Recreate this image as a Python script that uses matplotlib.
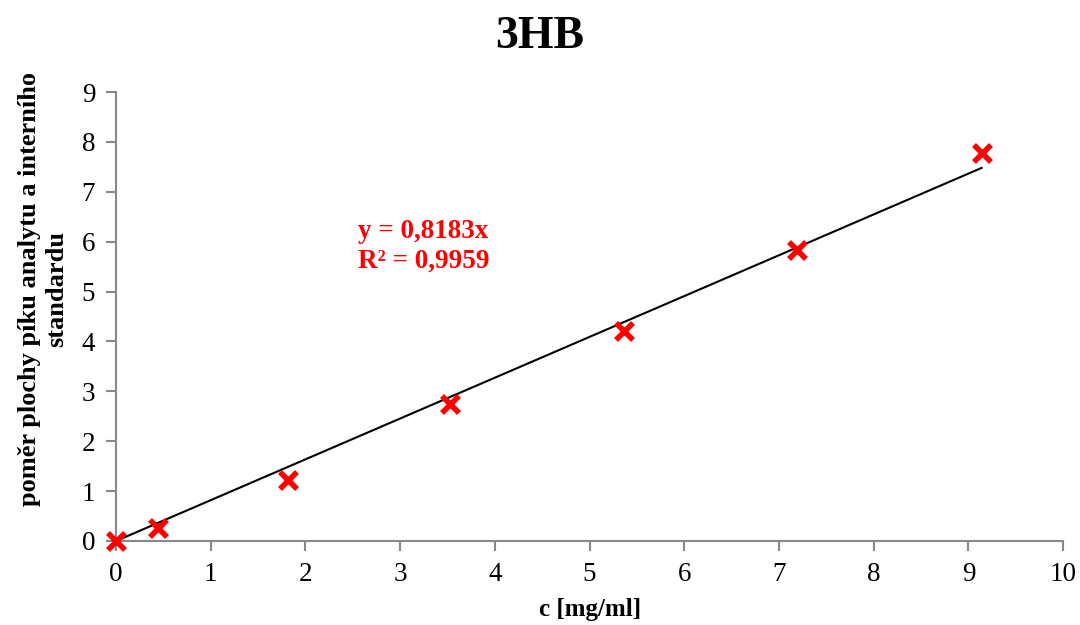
import numpy as np
import matplotlib.pyplot as plt

# calibration data for 3HB
conc = [0.0, 0.44, 1.82, 3.53, 5.36, 7.19, 9.14]
ratio = [0.0, 0.26, 1.22, 2.74, 4.21, 5.84, 7.77]
slope = 0.8183
r2 = 0.9959

plt.rcParams['font.family'] = ['Liberation Serif', 'DejaVu Serif']

fig = plt.figure(figsize=(10.8, 6.25), dpi=100)
ax = fig.add_axes([0.1074, 0.1344, 0.877, 0.7184])

# trendline through the origin
xl = np.array([0.0, max(conc)])
ax.plot(xl, slope * xl, color='black', lw=1.5, zorder=2)
ax.scatter(conc, ratio, marker='x', s=150, color='#ff0000', linewidths=4, zorder=3, clip_on=False)

ax.text(2.55, 6.2, f'y = {slope:.4f}x'.replace('.', ','), color='#ff0000',
        fontsize=19.5, fontweight='bold', va='center')
ax.text(2.55, 5.6, f'R² = {r2:.4f}'.replace('.', ','), color='#ff0000',
        fontsize=19.5, fontweight='bold', va='center')

ax.set_xlim(0, 10)
ax.set_ylim(0, 9)
ax.set_xticks(range(0, 11))
ax.set_yticks(range(0, 10))
for s in ['top', 'right']:
    ax.spines[s].set_visible(False)
for s in ['left', 'bottom']:
    ax.spines[s].set_color('#898989')
    ax.spines[s].set_linewidth(1.5)
ax.tick_params(axis='both', colors='#898989', labelcolor='black', labelsize=19.5,
               length=7, width=1.5, direction='out')
ax.tick_params(axis='x', pad=8)
ax.tick_params(axis='y', pad=8)

fig.text(0.5, 0.94, '3HB', fontsize=33, fontweight='bold', ha='center', va='center')
ax.set_xlabel('c [mg/ml]', fontsize=18, fontweight='bold', labelpad=8)
fig.text(0.04, 0.538, 'poměr plochy píku analytu a interního\nstandardu', fontsize=19,
         fontweight='bold', rotation=90, ha='center', va='center', multialignment='center')

fig.savefig('out.png', dpi=100)
